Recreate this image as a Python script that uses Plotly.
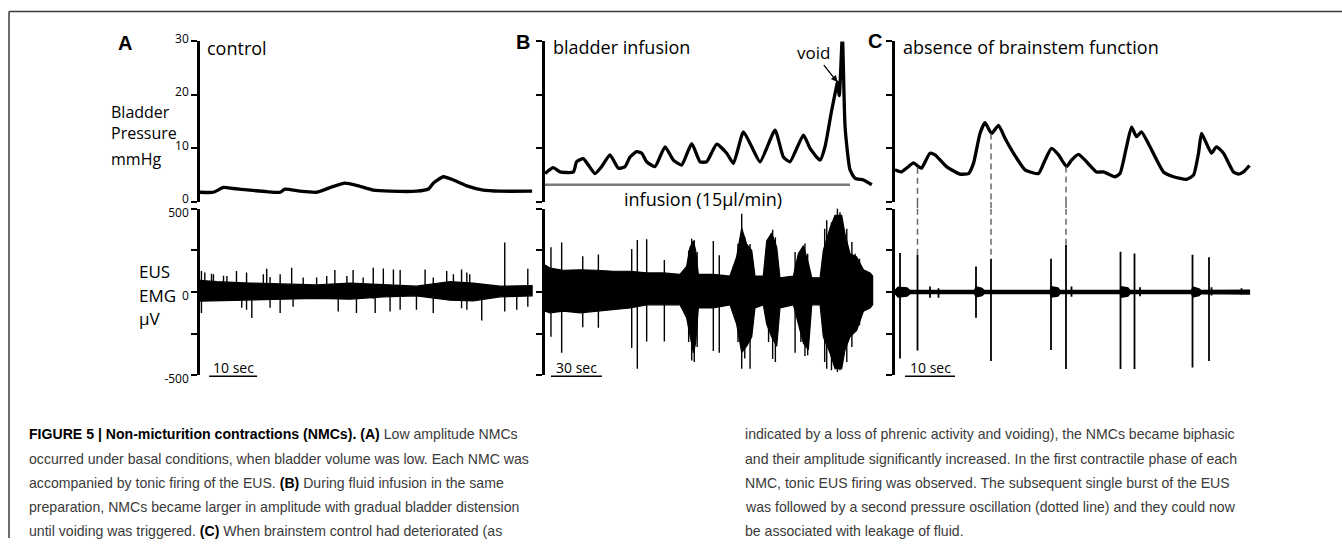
import plotly.graph_objects as go

W, H = 1342, 550

# ---------------- data (time in s, pressure in mmHg, EMG in uV) ----------------
# Panel A - control
a_p_t = [0, 2.8, 4.9, 6.9, 10.4, 13.9, 16.7, 17.7, 20.8, 24.3, 27.8, 30.2, 32.6, 36.1, 39.6,
         45.1, 47.6, 48.6, 50.7, 52.8, 55.6, 59.0, 62.5, 69.2]
a_p_v = [1.8, 1.8, 2.7, 2.5, 2.2, 1.9, 1.8, 2.4, 2.0, 1.8, 2.9, 3.5, 3.1, 2.2, 2.0,
         2.0, 2.4, 3.5, 4.7, 4.1, 3.0, 2.2, 2.0, 2.0]
a_env_t = [0, 3.5, 10.4, 17.4, 24.3, 31.3, 38.2, 45.1, 52.1, 56.9, 62.5, 69.2]
a_env_hi = [70, 62, 54, 49, 43, 54, 43, 35, 62, 54, 35, 39]
a_env_lo = [-55, -54, -49, -43, -39, -43, -29, -23, -49, -54, -29, -23]
a_sp_t = [0.3, 1.0, 2.4, 2.8, 4.9, 5.6, 7.6, 8.7, 9.7, 10.8, 13.2, 13.9, 14.6, 16.7, 19.1, 19.4,
          21.5, 24.3, 26.4, 28.1, 28.8, 30.6, 31.9, 32.6, 34.0, 36.1, 36.5, 38.2, 39.6, 40.3,
          41.7, 45.1, 46.9, 48.6, 51.4, 52.8, 54.5, 55.6, 56.2, 58.7, 63.5, 66.0, 68.3]
a_sp_hi = [126, 117, 110, 107, 98, 97, 126, 40, 117, 40, 107, 140, 90, 107, 146, 40,
           88, 88, 97, 132, 40, 97, 132, 40, 88, 146, 40, 142, 40, 136,
           132, 30, 136, 88, 126, 107, 136, 117, 107, 40, 298, 30, 140]
a_sp_lo = [-126, -40, -40, -40, -40, -40, -40, -95, -107, -156, -40, -40, -95, -126, -40, -88,
           -40, -40, -40, -40, -117, -40, -40, -126, -30, -40, -126, -30, -117, -30,
           -107, -107, -30, -126, -40, -40, -97, -107, -40, -171, -117, -107, -88]

# Panel B - bladder infusion
b_p_t = [0, 4.9, 8.8, 16.7, 18.6, 22.5, 25.5, 29.4, 33.3, 38.2, 43.1, 47.1, 50, 53.9, 56.9,
         59.8, 64.7, 70.6, 75.5, 80.4, 86.3, 91.2, 95.1, 101, 106.9, 110.8, 116.7, 121.6,
         126.5, 135.3, 140.2, 144.1, 152, 155.9, 161.8, 164.7, 168.6, 171.2, 172, 173.1,
         174.9, 176.5, 179.4, 182.4, 187.3, 192.2]
b_p_v = [5.3, 6.4, 5.6, 5.6, 7.5, 8.1, 6.9, 5.3, 6.6, 8.8, 6.3, 6.6, 8.4, 9.4, 9.1,
         7.5, 6.6, 10.3, 7.8, 6.9, 10.9, 7.5, 7.5, 10.8, 9.1, 7.2, 13.1, 10.3,
         7.5, 13.4, 8.4, 7.5, 12.5, 10.0, 7.8, 10.3, 17.1, 21.2, 22.4, 19.9,
         31.1, 14.0, 6.0, 4.4, 4.1, 3.2]
b_infusion_t = [0, 179.4]
b_infusion_v = [3.2, 3.2]
b_void_t, b_void_v = 172, 22.4
b_env_t = [0, 2.9, 10.8, 20.6, 30.4, 40.2, 50, 59.8, 69.6, 79.4, 83.3, 85.3, 87.3, 88.6, 90.2,
           99, 108.8, 112.7, 115.7, 118.6, 121.6, 123.5, 128.4, 130.4, 133.3, 136.3, 138.2,
           146.1, 149, 152, 154.9, 156.9, 161.8, 163.7, 167.6, 170.6, 174.5, 176.5, 179.4,
           183.3, 187.3, 191.2, 192.7]
b_env_hi = [163, 144, 131, 134, 131, 125, 125, 115, 115, 106, 154, 269, 307, 250, 106,
            106, 96, 211, 384, 288, 250, 96, 96, 307, 355, 269, 86,
            96, 230, 278, 173, 86, 86, 250, 384, 461, 461, 346, 230,
            211, 134, 115, 96]
b_env_lo = [-115, -125, -115, -125, -115, -106, -96, -77, -77, -77, -154, -269, -365, -307, -96,
            -96, -77, -192, -365, -326, -269, -96, -77, -192, -269, -326, -96,
            -77, -192, -307, -346, -77, -77, -269, -365, -461, -461, -346, -269,
            -230, -115, -96, -77]
b_sp_t = [3.5, 9.8, 22.2, 31.4, 51, 54.3, 59.8, 70.2, 84.5, 86.3, 87.8, 89.5, 99, 102.5,
          113.5, 115.7, 117.5, 120.6, 131.5, 133.9, 135.5, 147.1, 150.5, 152.9, 154.5,
          164.5, 165.7, 168.5, 172, 173.5, 177.5, 180.5, 182.4, 185]
b_sp_hi = [269, 298, 215, 226, 259, 313, 317, 192, 250, 321, 311, 240, 307, 221,
           290, 470, 330, 288, 300, 374, 330, 240, 250, 292, 230,
           380, 432, 420, 509, 480, 380, 300, 230, 200]
b_sp_lo = [-269, -365, -211, -215, -336, -461, -298, -298, -300, -411, -420, -330, -355, -365,
           -300, -461, -400, -461, -300, -403, -420, -365, -300, -384, -380,
           -420, -461, -470, -480, -470, -420, -330, -230, -200]

# Panel C - absence of brainstem function
c_p_t = [0, 1.3, 2.3, 3.7, 4.7, 5.3, 7, 8, 10.3, 13, 14.7, 15.7, 17, 18, 19.3, 20.7, 22, 23.7,
         26, 28.7, 30, 31.3, 32.7, 34.3, 35.3, 36.7, 38, 40.3, 41.7, 44, 45, 46.3, 47.3, 48.3,
         49.3, 51, 53.7, 55.7, 58.3, 59.7, 60.7, 61.3, 62.3, 63.3, 64.3, 65.7, 67.7, 68.7,
         69.7, 70.9]
c_p_v = [6.0, 5.6, 6.3, 7.3, 6.6, 6.3, 9.1, 8.8, 6.6, 5.2, 5.3, 7.2, 12.8, 14.8, 12.8, 14.3,
         11.9, 9.1, 6.0, 5.3, 7.8, 10.0, 8.8, 6.6, 7.8, 8.9, 7.8, 5.6, 5.6, 4.7, 5.3, 10.3, 14.0,
         12.2, 13.1, 10.3, 5.6, 4.7, 4.2, 5.0, 9.1, 12.8, 10.9, 9.1, 10.3, 9.1, 5.6, 5.2, 5.6, 6.8]
c_env_t = [0, 0.6, 2.4, 3.0, 15.9, 16.2, 17.4, 17.8, 31.0, 31.3, 32.6, 33.0, 45.0, 45.3, 46.6,
           47.0, 59.3, 59.6, 60.8, 61.2, 70.9]
c_env_hi = [10, 30, 25, 10, 10, 32, 22, 10, 10, 32, 25, 10, 10, 32, 25, 10, 10, 30, 20, 10, 12]
c_env_lo = [-10, -30, -25, -10, -10, -30, -22, -10, -10, -30, -25, -10, -10, -32, -25, -10, -10,
            -30, -22, -10, -12]
c_sp_t = [1.0, 4.5, 7.0, 8.7, 16.2, 19.2, 31.2, 34.2, 35.3, 45.1, 47.9, 49.0, 59.5, 62.8,
          63.3, 69.3]
c_sp_hi = [234, 224, 33, 23, 154, 200, 200, 282, 33, 242, 232, 29, 224, 209, 29, 23]
c_sp_lo = [-399, -351, -35, -35, -154, -415, -348, -463, -29, -463, -463, -25, -453, -415,
           -21, -15]
# dotted links: pressure at the second oscillation -> EUS burst
c_dash_t = [4.5, 19.2, 34.2]
c_dash_p = [6.4, 12.8, 6.6]
c_dash_emg = [224, 200, 282]

# axis ticks
p_ticks = [0, 10, 20, 30]
p_ticktext = ["0", "10", "20", "30"]
e_ticks = [-500, -250, 0, 250, 500]
e_ticktext = ["-500", "", "0", "", "500"]

# ---------------- layout geometry (pixels) ----------------
panels = [  # x left px, x right px, time span of axis
    (200, 535, 69.8),
    (545, 875, 194.1),
    (895, 1255, 72.0),
]
P_TOP, P_BOT = 41, 202
E_TOP, E_BOT = 209, 376

# vertical calibration of the rendered page
YS, YO = 0.96, 11.4


def px(x):
    return x / W


def py(y):
    return 1 - ((y - YO) / YS) / H


fig = go.Figure()


def spikes(t, hi, lo):
    xs, ys = [], []
    for a, b, c in zip(t, hi, lo):
        xs += [a, a, None]
        ys += [b, c, None]
    return xs, ys


press = [(a_p_t, a_p_v), (b_p_t, b_p_v), (c_p_t, c_p_v)]
envs = [(a_env_t, a_env_hi, a_env_lo), (b_env_t, b_env_hi, b_env_lo), (c_env_t, c_env_hi, c_env_lo)]
spks = [(a_sp_t, a_sp_hi, a_sp_lo), (b_sp_t, b_sp_hi, b_sp_lo), (c_sp_t, c_sp_hi, c_sp_lo)]

for i in range(3):
    xp = "x" if i == 0 else f"x{i+1}"
    yp = "y" if i == 0 else f"y{i+1}"
    xe, ye = f"x{i+4}", f"y{i+4}"
    t, v = press[i]
    fig.add_trace(go.Scatter(x=t, y=v, xaxis=xp, yaxis=yp, mode="lines",
                             line=dict(color="black", width=3.3, shape="spline", smoothing=0.5),
                             hoverinfo="skip"))
    et, eh, el = envs[i]
    fig.add_trace(go.Scatter(x=list(et) + list(et)[::-1], y=list(eh) + list(el)[::-1],
                             xaxis=xe, yaxis=ye, mode="lines", fill="toself",
                             fillcolor="black", line=dict(color="black", width=1.2),
                             hoverinfo="skip"))
    sx, sy = spikes(*spks[i])
    fig.add_trace(go.Scatter(x=sx, y=sy, xaxis=xe, yaxis=ye, mode="lines",
                             line=dict(color="black", width=1.8 if i == 2 else 1.4),
                             hoverinfo="skip"))

# infusion bar
fig.add_trace(go.Scatter(x=b_infusion_t, y=b_infusion_v, xaxis="x2", yaxis="y2", mode="lines",
                         line=dict(color="#7a7a7a", width=2.5), hoverinfo="skip"))

layout = dict(width=W, height=H, margin=dict(l=0, r=0, t=0, b=0), autosize=False,
              paper_bgcolor="white", plot_bgcolor="white", showlegend=False)

axis_common = dict(showline=True, linecolor="black", linewidth=2.5, ticks="outside",
                   ticklen=6, tickwidth=2, tickcolor="black", showgrid=False, zeroline=False,
                   tickfont=dict(family="Open Sans, sans-serif", size=12, color="black"))

for i, (x0, x1, span) in enumerate(panels):
    for row in range(2):
        k = i + 1 + 3 * row
        xname = "xaxis" if k == 1 else f"xaxis{k}"
        yname = "yaxis" if k == 1 else f"yaxis{k}"
        layout[xname] = dict(domain=[px(x0), px(x1)], range=[0, span], visible=False,
                             anchor="y" if k == 1 else f"y{k}")
        if row == 0:
            layout[yname] = dict(domain=[py(P_BOT), py(P_TOP)], range=[0, 30],
                                 tickvals=p_ticks, ticktext=p_ticktext,
                                 showticklabels=(i == 0), ticklabelshift=-3,
                                 anchor="x" if k == 1 else f"x{k}", **axis_common)
        else:
            layout[yname] = dict(domain=[py(E_BOT), py(E_TOP)], range=[-500, 500],
                                 tickvals=e_ticks, ticktext=e_ticktext,
                                 showticklabels=(i == 0), ticklabelshift=4,
                                 anchor=f"x{k}", **axis_common)

shapes = []
# frame lines
shapes.append(dict(type="line", xref="paper", yref="paper", x0=px(9), x1=1, y0=py(11), y1=py(11),
                   line=dict(color="#3c3c3c", width=1.5)))
shapes.append(dict(type="line", xref="paper", yref="paper", x0=px(9), x1=px(9), y0=py(11), y1=0,
                   line=dict(color="#3c3c3c", width=1.5)))
# dashed links in C
dash_style = dict(color="#666666", width=1.5, dash="6px,4px")
for t, p, e in zip(c_dash_t, c_dash_p, c_dash_emg):
    shapes.append(dict(type="line", xref="x3", yref="y3", x0=t, x1=t, y0=p, y1=0, line=dash_style))
    shapes.append(dict(type="line", xref="x3", yref="paper", x0=t, x1=t, y0=py(P_BOT), y1=py(E_TOP),
                       line=dash_style))
    shapes.append(dict(type="line", xref="x6", yref="y6", x0=t, x1=t, y0=500, y1=e, line=dash_style))

# time scale bars
scalebars = [("x4", 1.9, 10, "10 sec"), ("x5", 3.5, 30, "30 sec"), ("x6", 2.0, 10, "10 sec")]
annotations = []
for xr, s0, length, lab in scalebars:
    shapes.append(dict(type="line", xref=xr, yref="paper", x0=s0, x1=s0 + length,
                       y0=py(377), y1=py(377), line=dict(color="black", width=1.5)))
    annotations.append(dict(xref=xr, yref="paper", x=s0 + length / 2, y=py(368), text=lab,
                            showarrow=False, xanchor="center", yanchor="middle",
                            font=dict(family="Open Sans, sans-serif", size=14, color="black")))
layout["shapes"] = shapes

lab_font = dict(family="Open Sans, sans-serif", size=18, color="black")
for x, y, txt in [(205, 48, "control"), (551, 47, "bladder infusion"),
                  (901, 47, "absence of brainstem function")]:
    annotations.append(dict(xref="paper", yref="paper", x=px(x), y=py(y), text=txt, showarrow=False,
                            xanchor="left", yanchor="middle", font=lab_font))
for x, y, txt in [(125, 43, "A"), (523, 42, "B"), (875, 41, "C")]:
    annotations.append(dict(xref="paper", yref="paper", x=px(x), y=py(y), text=f"<b>{txt}</b>",
                            showarrow=False, xanchor="center", yanchor="middle",
                            font=dict(family="Liberation Sans, Arial, sans-serif", size=20, color="black")))
side_font = dict(family="Open Sans, sans-serif", size=16, color="black")
for y, txt in [(112, "Bladder"), (133, "Pressure"), (159, "mmHg")]:
    annotations.append(dict(xref="paper", yref="paper", x=px(109), y=py(y), text=txt, showarrow=False,
                            xanchor="left", yanchor="middle", font=side_font))
for y, txt in [(272, "EUS"), (296, "EMG"), (319, "μV")]:
    annotations.append(dict(xref="paper", yref="paper", x=px(137), y=py(y), text=txt, showarrow=False,
                            xanchor="left", yanchor="middle", font=dict(side_font, size=17)))
annotations.append(dict(xref="paper", yref="paper", x=px(703), y=py(199), text="infusion (15μl/min)",
                        showarrow=False, xanchor="center", yanchor="middle", font=lab_font))
annotations.append(dict(xref="x2", yref="y2", x=b_void_t, y=b_void_v, text="void", showarrow=True,
                        arrowhead=2, arrowsize=1, arrowwidth=1.3, arrowcolor="black",
                        ax=-24, ay=-30, font=dict(family="Open Sans, sans-serif", size=17, color="black")))

# caption
cap_font = dict(family="Liberation Sans, Arial, sans-serif", size=14.1, color="#3a3a3a")
left_lines = [
    "<b style='color:black'>FIGURE 5 | Non-micturition contractions (NMCs). (A)</b> Low amplitude NMCs",
    "occurred under basal conditions, when bladder volume was low. Each NMC was",
    "accompanied by tonic firing of the EUS. <b style='color:black'>(B)</b> During fluid infusion in the same",
    "preparation, NMCs became larger in amplitude with gradual bladder distension",
    "until voiding was triggered. <b style='color:black'>(C)</b> When brainstem control had deteriorated (as",
]
right_lines = [
    "indicated by a loss of phrenic activity and voiding), the NMCs became biphasic",
    "and their amplitude significantly increased. In the first contractile phase of each",
    "NMC, tonic EUS firing was observed. The subsequent single burst of the EUS",
    "was followed by a second pressure oscillation (dotted line) and they could now",
    "be associated with leakage of fluid.",
]
line_y = [435, 460, 484, 508, 532]
for y, txt in zip(line_y, left_lines):
    annotations.append(dict(xref="paper", yref="paper", x=px(27), y=py(y), text=txt, showarrow=False,
                            xanchor="left", yanchor="middle", font=cap_font))
for y, txt in zip(line_y, right_lines):
    annotations.append(dict(xref="paper", yref="paper", x=px(743), y=py(y), text=txt, showarrow=False,
                            xanchor="left", yanchor="middle", font=cap_font))
layout["annotations"] = annotations

fig.update_layout(**layout)
fig.write_html("out.html", config={"displayModeBar": False},
               post_script="document.body.style.margin='0';document.body.style.overflow='hidden';")
